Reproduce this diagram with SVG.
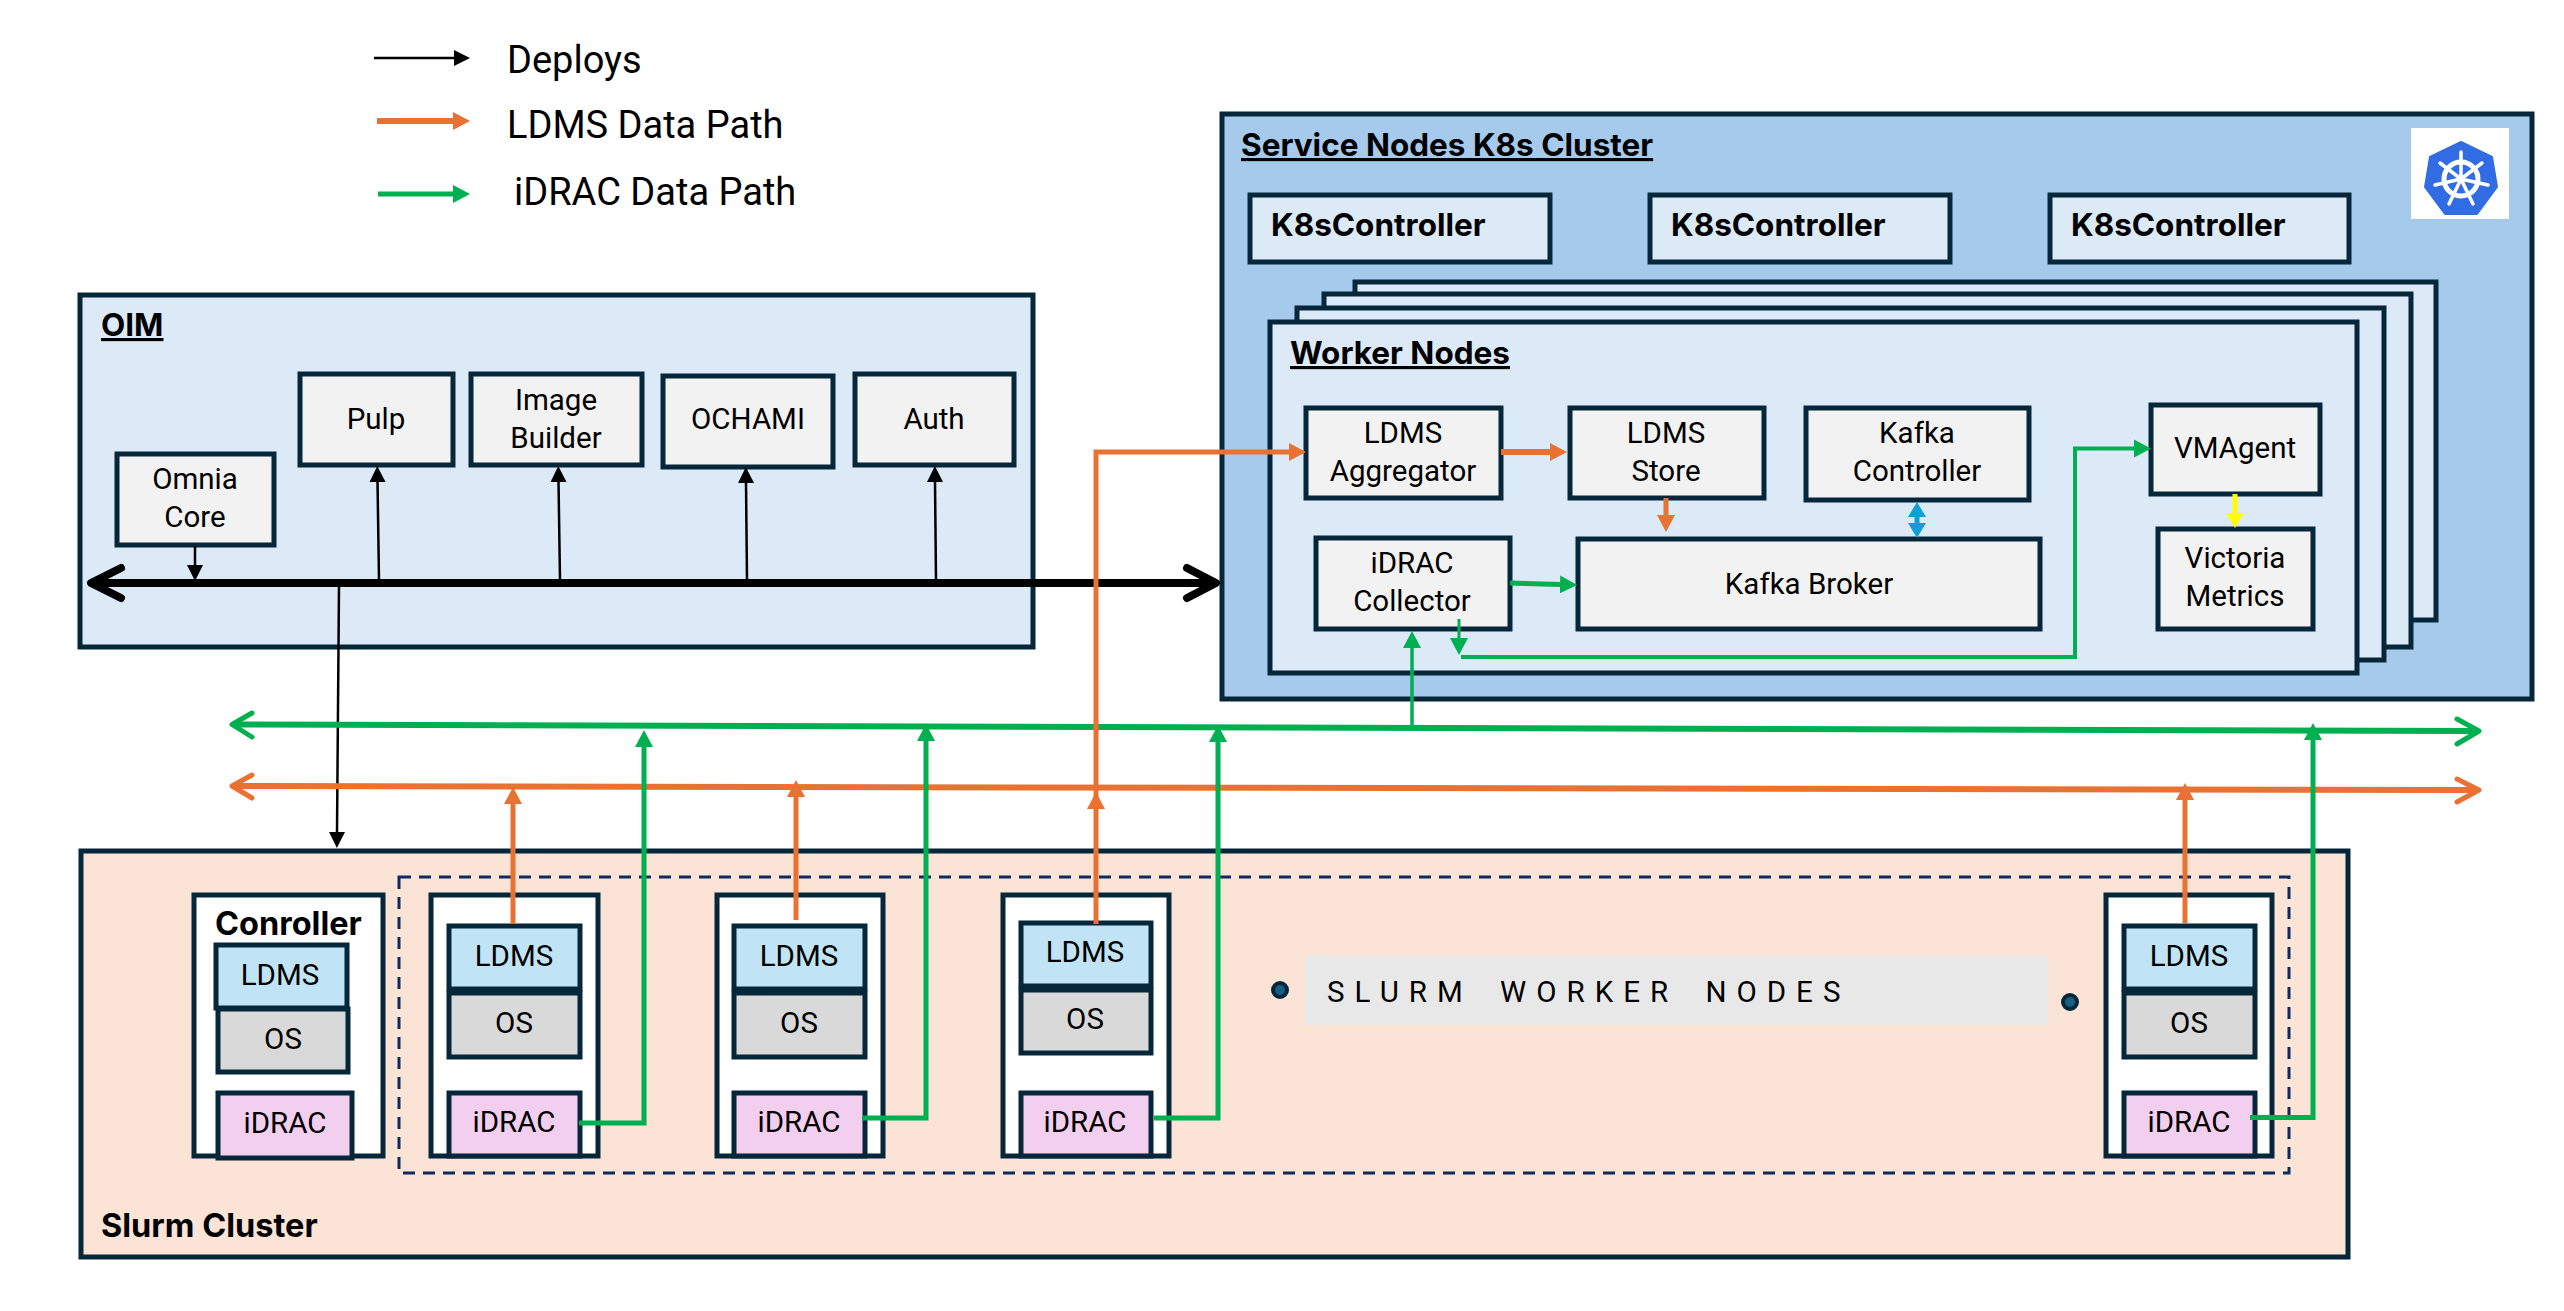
<svg xmlns="http://www.w3.org/2000/svg" width="2564" height="1311" viewBox="0 0 2564 1311">
<style>
text{font-family:Roboto,"Liberation Sans",sans-serif;font-size:29.500px;fill:#000;text-anchor:middle}
.t{font-family:Inter,"Liberation Sans",sans-serif;font-size:31.500px;font-weight:700;text-anchor:start}
.t2{font-size:32.500px}
.u{text-decoration:underline}
.lg{font-size:38px;text-anchor:start}
.b{fill:#f2f2f2;stroke:#06263a;stroke-width:5}
.c{fill:#dceaf7;stroke:#06263a;stroke-width:5}
.host{fill:#fff;stroke:#06263a;stroke-width:5}
.ldms{fill:#c0e4f5;stroke:#06263a;stroke-width:5}
.os{fill:#d9d9d9;stroke:#06263a;stroke-width:5}
.idrac{fill:#f2ceef;stroke:#06263a;stroke-width:5}
.k{fill:none;stroke:#000;stroke-width:2.500}
.o{fill:none;stroke:#e97132;stroke-width:5}
.g{fill:none;stroke:#00b050;stroke-width:3.500}
.chev{fill:none;stroke-width:6;stroke-linecap:round;stroke-linejoin:round}
</style>
<defs>
<marker id="ak" markerUnits="userSpaceOnUse" markerWidth="18" markerHeight="18" refX="1" refY="9" orient="auto"><path d="M0 1L16 9L0 17Z" fill="#000"/></marker>
<marker id="ao" markerUnits="userSpaceOnUse" markerWidth="18" markerHeight="20" refX="1" refY="10" orient="auto"><path d="M0 1L17 10L0 19Z" fill="#e97132"/></marker>
<marker id="ag" markerUnits="userSpaceOnUse" markerWidth="18" markerHeight="20" refX="1" refY="10" orient="auto"><path d="M0 1L17 10L0 19Z" fill="#00b050"/></marker>
<marker id="ab" markerUnits="userSpaceOnUse" markerWidth="16" markerHeight="20" refX="1" refY="10" orient="auto-start-reverse"><path d="M0 1L15 10L0 19Z" fill="#0f9ed5"/></marker>
<marker id="ay" markerUnits="userSpaceOnUse" markerWidth="16" markerHeight="20" refX="1" refY="10" orient="auto"><path d="M0 1L15 10L0 19Z" fill="#ff0"/></marker>
</defs>

<g id="legend">
<text class="lg" x="507" y="73">Deploys</text>
<text class="lg" x="507" y="138">LDMS Data Path</text>
<text class="lg" x="514" y="205">iDRAC Data Path</text>
</g>

<g id="oim">
<rect x="80" y="295" width="953" height="352" fill="#dceaf7" stroke="#06263a" stroke-width="5"/>
<text class="t u" x="101" y="336">OIM</text>
</g>
<g id="omnia-core"><rect class="b" x="117" y="454" width="157" height="91"/><text x="195" y="489">Omnia</text><text x="195" y="527">Core</text></g>
<g id="pulp"><rect class="b" x="300" y="374" width="153" height="91"/><text x="376" y="429">Pulp</text></g>
<g id="image-builder"><rect class="b" x="471" y="374" width="171" height="91"/><text x="556" y="410">Image</text><text x="556" y="448">Builder</text></g>
<g id="ochami"><rect class="b" x="663" y="376" width="170" height="91"/><text x="748" y="429">OCHAMI</text></g>
<g id="auth"><rect class="b" x="855" y="374" width="159" height="91"/><text x="934" y="429">Auth</text></g>

<g id="service-cluster">
<rect x="1222" y="114" width="1310" height="585" fill="#a6caec" stroke="#06263a" stroke-width="5"/>
<text class="t u" x="1241" y="156">Service Nodes K8s Cluster</text>
</g>
<g id="k8s-logo">
<rect x="2411" y="128" width="98" height="91" fill="#fff"/>
<path d="M2461 142L2492 157L2497 187L2477 214H2445L2425 187L2430 157Z" fill="#326ce5" stroke="#326ce5" stroke-width="2" stroke-linejoin="round"/>
<circle cx="2461" cy="179" r="17" fill="none" stroke="#fff" stroke-width="5"/>
<path d="M2461 179V152M2461 179L2482 163M2461 179L2488 185M2461 179L2473 204M2461 179L2449 204M2461 179L2435 185M2461 179L2440 163" stroke="#fff" stroke-width="3.500" stroke-linecap="round"/>
<circle cx="2461" cy="179" r="4" fill="#fff"/>
</g>
<g id="k8s-controller-1"><rect class="c" x="1250" y="195" width="300" height="67"/><text class="t" x="1271" y="236">K8sController</text></g>
<g id="k8s-controller-2"><rect class="c" x="1650" y="195" width="300" height="67"/><text class="t" x="1671" y="236">K8sController</text></g>
<g id="k8s-controller-3"><rect class="c" x="2050" y="195" width="299" height="67"/><text class="t" x="2071" y="236">K8sController</text></g>

<g id="worker-stack">
<rect class="c" x="1355" y="282" width="1081" height="338"/>
<rect class="c" x="1324" y="294" width="1087" height="353"/>
<rect class="c" x="1297" y="308" width="1087" height="352"/>
</g>
<g id="worker-nodes">
<rect class="c" x="1270" y="322" width="1087" height="351"/>
<text class="t u" x="1290" y="364">Worker Nodes</text>
</g>
<g id="ldms-aggregator"><rect class="b" x="1306" y="408" width="195" height="90"/><text x="1403" y="443">LDMS</text><text x="1403" y="481">Aggregator</text></g>
<g id="ldms-store"><rect class="b" x="1570" y="408" width="194" height="90"/><text x="1666" y="443">LDMS</text><text x="1666" y="481">Store</text></g>
<g id="kafka-controller"><rect class="b" x="1806" y="408" width="223" height="92"/><text x="1917" y="443">Kafka</text><text x="1917" y="481">Controller</text></g>
<g id="vmagent"><rect class="b" x="2151" y="405" width="169" height="89"/><text x="2235" y="458">VMAgent</text></g>
<g id="victoria-metrics"><rect class="b" x="2158" y="529" width="155" height="100"/><text x="2235" y="568">Victoria</text><text x="2235" y="606">Metrics</text></g>
<g id="idrac-collector"><rect class="b" x="1316" y="538" width="194" height="91"/><text x="1412" y="573">iDRAC</text><text x="1412" y="611">Collector</text></g>
<g id="kafka-broker"><rect class="b" x="1578" y="539" width="462" height="90"/><text x="1809" y="594">Kafka Broker</text></g>

<g id="slurm-cluster">
<rect x="81" y="851" width="2267" height="406" fill="#fbe3d6" stroke="#06263a" stroke-width="5"/>
<text class="t t2" x="101" y="1237">Slurm Cluster</text>
<rect x="399" y="877" width="1890" height="296" fill="none" stroke="#0e2a5e" stroke-width="3" stroke-dasharray="12 8"/>
</g>
<g id="controller">
<rect class="host" x="194" y="895" width="189" height="261"/>
<text class="t t2" x="215" y="935">Conroller</text>
<rect class="os" x="218" y="1009" width="130" height="63"/><text x="283" y="1049">OS</text>
<rect class="ldms" x="216" y="945" width="131" height="63"/><text x="280" y="985">LDMS</text>
<rect class="idrac" x="218" y="1093" width="134" height="65"/><text x="285" y="1133">iDRAC</text>
</g>
<g id="worker-1">
<rect class="host" x="431" y="895" width="167" height="261"/>
<rect class="ldms" x="449" y="926" width="131" height="63"/><text x="514" y="966">LDMS</text>
<rect class="os" x="449" y="993" width="131" height="64"/><text x="514" y="1033">OS</text>
<rect class="idrac" x="449" y="1093" width="131" height="63"/><text x="514" y="1132">iDRAC</text>
</g>
<g id="worker-2">
<rect class="host" x="717" y="895" width="166" height="261"/>
<rect class="ldms" x="734" y="926" width="131" height="63"/><text x="799" y="966">LDMS</text>
<rect class="os" x="734" y="993" width="131" height="64"/><text x="799" y="1033">OS</text>
<rect class="idrac" x="734" y="1093" width="131" height="63"/><text x="799" y="1132">iDRAC</text>
</g>
<g id="worker-3">
<rect class="host" x="1003" y="895" width="166" height="261"/>
<rect class="ldms" x="1021" y="923" width="130" height="63"/><text x="1085" y="962">LDMS</text>
<rect class="os" x="1021" y="990" width="130" height="63"/><text x="1085" y="1029">OS</text>
<rect class="idrac" x="1021" y="1093" width="130" height="63"/><text x="1085" y="1132">iDRAC</text>
</g>
<g id="worker-4">
<rect class="host" x="2106" y="895" width="166" height="261"/>
<rect class="ldms" x="2124" y="926" width="131" height="63"/><text x="2189" y="966">LDMS</text>
<rect class="os" x="2124" y="993" width="131" height="64"/><text x="2189" y="1033">OS</text>
<rect class="idrac" x="2124" y="1093" width="131" height="63"/><text x="2189" y="1132">iDRAC</text>
</g>
<g id="slurm-worker-label">
<rect x="1305" y="955" width="743" height="70" fill="#e8e8e8"/>
<text x="1327" y="1002" style="text-anchor:start;letter-spacing:10px;word-spacing:10px">SLURM WORKER NODES</text>
<circle cx="1280" cy="990" r="7" fill="#156082" stroke="#06263a" stroke-width="4"/>
<circle cx="2070" cy="1002" r="7" fill="#156082" stroke="#06263a" stroke-width="4"/>
</g>

<g id="connectors">
<path class="k" d="M374 58H455" marker-end="url(#ak)"/>
<path class="o" style="stroke-width:6" d="M377 121H454" marker-end="url(#ao)"/>
<path class="g" style="stroke-width:5" d="M378 194H454" marker-end="url(#ag)"/>

<path d="M94 583H1214" fill="none" stroke="#000" stroke-width="8"/>
<path d="M121 568L91 583L121 598M1187 568L1216 583L1187 598" fill="none" stroke="#000" stroke-width="8" stroke-linecap="round" stroke-linejoin="round"/>
<path class="k" d="M195 546V566" marker-end="url(#ak)"/>
<path class="k" d="M379 580L377.500 481" marker-end="url(#ak)"/>
<path class="k" d="M560 580L558.500 481" marker-end="url(#ak)"/>
<path class="k" d="M747 580L746 482" marker-end="url(#ak)"/>
<path class="k" d="M936 580L935 481" marker-end="url(#ak)"/>
<path class="k" d="M339 585L337 833" marker-end="url(#ak)"/>

<path class="g" style="stroke-width:6" d="M234 724.500L2476 731"/>
<path class="g chev" d="M252 713L232 724.500L252 737M2457 719L2479 731L2457 744" style="stroke-width:5"/>
<path class="o" style="stroke-width:6" d="M234 786L2476 790"/>
<path class="o chev" d="M252 775L232 786L252 798M2457 779L2479 790L2457 802" style="stroke-width:5"/>

<path class="o" d="M513 924V803" marker-end="url(#ao)"/>
<path class="o" d="M796 920V796" marker-end="url(#ao)"/>
<path class="o" d="M1096 924V808" marker-end="url(#ao)"/>
<path class="o" d="M2185 923V799" marker-end="url(#ao)"/>
<path class="o" d="M1096 808V452H1290" marker-end="url(#ao)"/>
<path class="o" style="stroke-width:6" d="M1501 452H1551" marker-end="url(#ao)"/>
<path class="o" d="M1666 498V516" marker-end="url(#ao)"/>

<path class="g" d="M1412 727V647" marker-end="url(#ag)"/>
<path class="g" style="stroke-width:5" d="M579 1123H644V746" marker-end="url(#ag)"/>
<path class="g" style="stroke-width:5" d="M862 1118H926V740" marker-end="url(#ag)"/>
<path class="g" style="stroke-width:5" d="M1154 1118H1218V741" marker-end="url(#ag)"/>
<path class="g" style="stroke-width:5" d="M2250 1117.500H2313V739" marker-end="url(#ag)"/>
<path class="g" style="stroke-width:5" d="M1510 583L1561 584.500" marker-end="url(#ag)"/>
<path class="g" style="stroke-width:3" d="M1459 619V639" marker-end="url(#ag)"/>
<path class="g" style="stroke-width:4" d="M1461 657H2075V448.500H2135" marker-end="url(#ag)"/>

<path d="M1917 516V524" fill="none" stroke="#0f9ed5" stroke-width="5" marker-start="url(#ab)" marker-end="url(#ab)"/>
<path d="M2235 494V514" fill="none" stroke="#ff0" stroke-width="5" marker-end="url(#ay)"/>
</g>
</svg>
